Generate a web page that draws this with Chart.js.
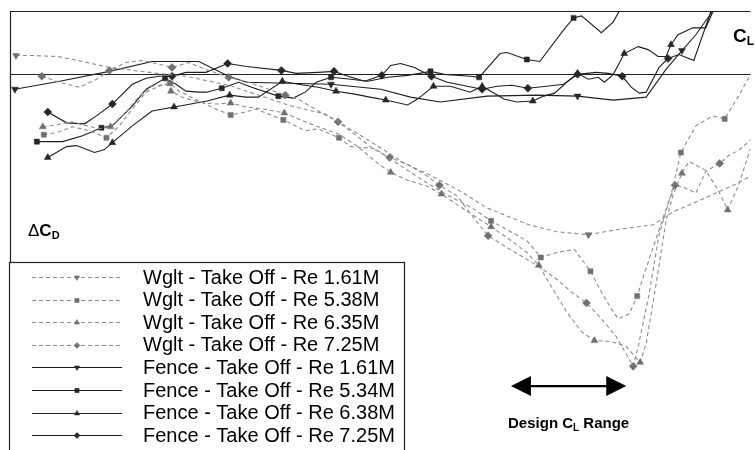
<!DOCTYPE html>
<html>
<head>
<meta charset="utf-8">
<script src="https://cdn.jsdelivr.net/npm/chart.js@4/dist/chart.umd.min.js"></script>
<style>
  html, body { margin: 0; padding: 0; background: #ffffff; }
  #wrap { width: 755px; height: 450px; position: relative; }
</style>
</head>
<body>
<div id="wrap"><canvas id="chart" width="755" height="450"></canvas></div>
<script>
// Lift coefficient CL (x) and drag increment dCD in drag counts (y), one array per run.
const wglt161 = [[0.012,19],[0.046,19],[0.096,18],[0.146,13],[0.200,7],[0.280,2],[0.354,-2],[0.440,-11],[0.506,-22],[0.566,-32],[0.634,-40],[0.700,-60],[0.754,-77],[0.794,-90],[0.846,-102],[0.906,-118],[0.960,-135],[1.044,-152],[1.100,-159],[1.164,-162],[1.220,-157],[1.294,-152],[1.334,-139],[1.380,-129],[1.420,-120],[1.460,-111],[1.500,-100]];
const wglt538 = [[0.068,-61],[0.100,-58],[0.126,-53],[0.160,-57],[0.194,-64],[0.220,-52],[0.246,-35],[0.274,-18],[0.300,-12],[0.322,-9],[0.340,-17],[0.380,-27],[0.414,-35],[0.444,-41],[0.476,-38],[0.494,-35],[0.550,-46],[0.594,-57],[0.620,-55],[0.662,-64],[0.686,-73],[0.734,-75],[0.764,-85],[0.800,-97],[0.840,-110],[0.880,-122],[0.930,-135],[0.968,-148],[1.000,-157],[1.040,-168],[1.068,-185],[1.100,-180],[1.136,-177],[1.168,-199],[1.190,-220],[1.210,-237],[1.224,-247],[1.246,-242],[1.262,-224],[1.276,-202],[1.294,-175],[1.314,-145],[1.330,-122],[1.350,-79],[1.380,-52],[1.414,-42],[1.438,-45],[1.466,-22],[1.490,0],[1.504,10]];
const wglt635 = [[0.066,-53],[0.094,-51],[0.124,-48],[0.154,-52],[0.180,-55],[0.202,-53],[0.234,-38],[0.260,-22],[0.286,-12],[0.314,-10],[0.324,-17],[0.346,-23],[0.380,-28],[0.414,-30],[0.444,-29],[0.476,-33],[0.510,-35],[0.552,-39],[0.580,-45],[0.620,-53],[0.660,-60],[0.700,-73],[0.740,-90],[0.766,-99],[0.800,-107],[0.840,-113],[0.868,-121],[0.910,-135],[0.940,-145],[0.968,-154],[1.000,-165],[1.040,-180],[1.064,-193],[1.090,-215],[1.120,-240],[1.150,-260],[1.176,-269],[1.210,-270],[1.240,-275],[1.268,-291],[1.280,-272],[1.300,-212],[1.320,-148],[1.334,-122],[1.352,-100],[1.366,-88],[1.400,-97],[1.426,-118],[1.444,-137],[1.466,-112],[1.490,-75],[1.504,-57]];
const wglt725 = [[0.064,-2],[0.100,-8],[0.140,-13],[0.174,-5],[0.200,4],[0.234,12],[0.266,14],[0.294,11],[0.326,7],[0.360,12],[0.394,5],[0.440,-3],[0.480,-8],[0.520,-15],[0.554,-21],[0.580,-25],[0.620,-37],[0.660,-48],[0.700,-63],[0.730,-75],[0.764,-84],[0.800,-91],[0.840,-103],[0.864,-112],[0.900,-123],[0.936,-147],[0.962,-163],[1.000,-175],[1.040,-187],[1.064,-194],[1.100,-207],[1.130,-220],[1.160,-231],[1.190,-247],[1.220,-265],[1.254,-295],[1.264,-275],[1.286,-222],[1.306,-162],[1.326,-128],[1.338,-112],[1.360,-115],[1.380,-120],[1.400,-98],[1.428,-90],[1.446,-82],[1.466,-77],[1.504,-60]];
const fence161 = [[0.010,-15],[0.100,-7],[0.200,3],[0.286,13],[0.380,13],[0.440,-2],[0.476,-8],[0.560,-9],[0.646,-10],[0.746,-15],[0.806,-23],[0.866,-28],[0.960,-22],[1.060,-21],[1.142,-22],[1.214,-26],[1.280,-23],[1.320,5],[1.352,24],[1.380,40],[1.414,64],[1.424,73]];
const fence534 = [[0.054,-68],[0.106,-68],[0.146,-62],[0.184,-54],[0.206,-52],[0.246,-32],[0.274,-15],[0.312,-4],[0.334,-10],[0.354,-17],[0.380,-18],[0.396,-18],[0.426,-14],[0.460,-8],[0.486,-13],[0.540,-22],[0.570,-24],[0.594,-18],[0.616,-8],[0.646,-3],[0.686,-5],[0.720,-7],[0.760,-3],[0.800,-1],[0.824,1],[0.846,3],[0.874,0],[0.926,-2],[0.944,-3],[0.986,21],[1.000,22],[1.040,15],[1.066,13],[1.114,45],[1.134,57],[1.150,59],[1.190,42],[1.214,53],[1.226,64],[1.240,75]];
const fence638 = [[0.076,-84],[0.114,-73],[0.134,-72],[0.170,-79],[0.190,-76],[0.206,-69],[0.246,-52],[0.286,-37],[0.330,-33],[0.364,-30],[0.396,-27],[0.442,-21],[0.474,-23],[0.500,-23],[0.548,-7],[0.580,-10],[0.620,-13],[0.656,-17],[0.694,-20],[0.724,-23],[0.756,-26],[0.800,-31],[0.820,-25],[0.852,-12],[0.886,-12],[0.926,-18],[0.950,-12],[0.994,-25],[1.020,-28],[1.052,-27],[1.074,-22],[1.096,-19],[1.120,-8],[1.142,1],[1.164,-5],[1.184,-3],[1.196,-8],[1.214,0],[1.236,21],[1.264,28],[1.284,25],[1.304,18],[1.320,18],[1.330,30],[1.344,40],[1.374,47],[1.400,47],[1.414,63],[1.420,71]];
const fence725 = [[0.076,-38],[0.114,-49],[0.150,-50],[0.174,-42],[0.206,-30],[0.246,-10],[0.274,-4],[0.300,-2],[0.326,-2],[0.354,2],[0.394,2],[0.438,11],[0.476,8],[0.546,4],[0.576,1],[0.620,2],[0.652,3],[0.680,-2],[0.714,-7],[0.748,-1],[0.766,9],[0.786,11],[0.814,7],[0.848,-2],[0.880,-8],[0.920,-12],[0.950,-15],[0.980,-12],[1.010,-11],[1.042,-14],[1.080,-12],[1.114,-10],[1.142,0],[1.180,2],[1.204,1],[1.232,-2],[1.250,-13],[1.266,-19],[1.280,-18],[1.306,7],[1.324,16],[1.346,20],[1.376,14],[1.410,63],[1.416,71]];

// Indices of the points that carry a symbol on each curve.
const markWglt161 = [0, 19];
const markWglt538 = [0, 4, 9, 13, 16, 19, 27, 30, 33, 38, 43, 46];
const markWglt635 = [0, 5, 10, 14, 17, 23, 26, 29, 32, 36, 39, 44, 48];
const markWglt725 = [0, 4, 8, 11, 14, 17, 20, 23, 26, 32, 35, 40, 44];
const markFence161 = [0, 8, 14, 18];
const markFence534 = [0, 3, 7, 12, 15, 19, 25, 28, 31, 34];
const markFence638 = [0, 5, 8, 11, 14, 17, 20, 23, 26, 29, 33, 38, 43];
const markFence725 = [0, 4, 8, 11, 13, 16, 19, 23, 26, 29, 32, 35, 40];

const seriesLabels = [
  'Wglt - Take Off - Re 1.61M',
  'Wglt - Take Off - Re 5.38M',
  'Wglt - Take Off - Re 6.35M',
  'Wglt - Take Off - Re 7.25M',
  'Fence - Take Off - Re 1.61M',
  'Fence - Take Off - Re 5.34M',
  'Fence - Take Off - Re 6.38M',
  'Fence - Take Off - Re 7.25M'
];

// Axis extent (CL, drag counts) and the design lift range annotation.
const clRange = [0, 1.49];
const dcdRange = [-375, 64];
const designCL = [1.008, 1.240];
const designArrowDCD = -315;

const WGLT_LINE = '#8c8c8c';
const WGLT_MARK = '#707070';
const FENCE_LINE = '#1e1e1e';
const FENCE_MARK = '#262626';
const SANS = '"Liberation Sans", Arial, Helvetica, sans-serif';

function toXY(arr) { return arr.map(p => ({ x: p[0], y: p[1] })); }

function makeSet(label, data, marks, style, dashed) {
  const wglt = !!dashed;
  return {
    label: label,
    data: toXY(data),
    showLine: true,
    borderColor: wglt ? WGLT_LINE : FENCE_LINE,
    borderWidth: 1.1,
    borderDash: wglt ? [4, 3] : [],
    backgroundColor: wglt ? WGLT_MARK : FENCE_MARK,
    pointBackgroundColor: wglt ? WGLT_MARK : FENCE_MARK,
    pointBorderColor: wglt ? WGLT_MARK : FENCE_MARK,
    pointBorderWidth: 0.5,
    pointStyle: style.shape,
    pointRotation: style.rot,
    pointRadius: ctx => marks.includes(ctx.dataIndex) ? style.r : 0,
    pointHoverRadius: 0,
    tension: 0,
    fill: false
  };
}

const DOWN = { shape: 'triangle', rot: 180, r: 4 };
const SQUARE = { shape: 'rect', rot: 0, r: 3.6 };
const UP = { shape: 'triangle', rot: 0, r: 4 };
const DIAMOND = { shape: 'rectRot', rot: 0, r: 4 };

const datasets = [
  makeSet(seriesLabels[0], wglt161, markWglt161, DOWN, true),
  makeSet(seriesLabels[1], wglt538, markWglt538, SQUARE, true),
  makeSet(seriesLabels[2], wglt635, markWglt635, UP, true),
  makeSet(seriesLabels[3], wglt725, markWglt725, DIAMOND, true),
  makeSet(seriesLabels[4], fence161, markFence161, DOWN, false),
  makeSet(seriesLabels[5], fence534, markFence534, SQUARE, false),
  makeSet(seriesLabels[6], fence638, markFence638, UP, false),
  makeSet(seriesLabels[7], fence725, markFence725, DIAMOND, false)
];

// Frame (top and left edges) plus the zero-drag reference line.
const framePlugin = {
  id: 'frame',
  beforeDatasetsDraw(chart) {
    const { ctx, chartArea: a, scales } = chart;
    const y0 = Math.round(scales.y.getPixelForValue(0)) + 0.5;
    ctx.save();
    ctx.strokeStyle = '#222222';
    ctx.lineWidth = 1.2;
    ctx.beginPath();
    ctx.moveTo(a.left, y0);
    ctx.lineTo(a.right, y0);
    ctx.stroke();
    ctx.beginPath();
    ctx.moveTo(a.right, a.top + 0.5);
    ctx.lineTo(a.left + 0.5, a.top + 0.5);
    ctx.lineTo(a.left + 0.5, a.bottom);
    ctx.stroke();
    ctx.restore();
  }
};

function subLabel(ctx, x, y, main, sub, mainSize, subSize, prefix) {
  let cx = x;
  if (prefix) {
    ctx.font = 'normal ' + mainSize + 'px ' + SANS;
    ctx.fillText(prefix, cx, y);
    cx += ctx.measureText(prefix).width;
  }
  ctx.font = 'bold ' + mainSize + 'px ' + SANS;
  ctx.fillText(main, cx, y);
  cx += ctx.measureText(main).width;
  ctx.font = 'bold ' + subSize + 'px ' + SANS;
  ctx.fillText(sub, cx, y + 3);
  return cx + ctx.measureText(sub).width;
}

// Axis captions, design range arrow and the boxed key.
const overlayPlugin = {
  id: 'overlay',
  afterDraw(chart) {
    const { ctx, scales } = chart;
    const xs = scales.x, ys = scales.y;
    ctx.save();
    ctx.fillStyle = '#000000';
    ctx.textBaseline = 'alphabetic';
    ctx.textAlign = 'left';

    subLabel(ctx, 733, 42, 'C', 'L', 19, 12);
    subLabel(ctx, 28, 236, 'C', 'D', 17, 11, '\u0394');

    // design CL range: double-headed arrow
    const xa = xs.getPixelForValue(designCL[0]);
    const xb = xs.getPixelForValue(designCL[1]);
    const ya = ys.getPixelForValue(designArrowDCD);
    const head = 20, half = 10;
    ctx.fillStyle = '#000000';
    ctx.strokeStyle = '#000000';
    ctx.lineWidth = 2.2;
    ctx.beginPath();
    ctx.moveTo(xa + head - 2, ya);
    ctx.lineTo(xb - head + 2, ya);
    ctx.stroke();
    ctx.beginPath();
    ctx.moveTo(xa, ya);
    ctx.lineTo(xa + head, ya - half);
    ctx.lineTo(xa + head, ya + half);
    ctx.closePath();
    ctx.fill();
    ctx.beginPath();
    ctx.moveTo(xb, ya);
    ctx.lineTo(xb - head, ya - half);
    ctx.lineTo(xb - head, ya + half);
    ctx.closePath();
    ctx.fill();

    // caption under the arrow, centred
    const mid = (xa + xb) / 2;
    const big = 'bold 15px ' + SANS, small = 'bold 10px ' + SANS;
    ctx.font = big;
    const w1 = ctx.measureText('Design C').width;
    ctx.font = small;
    const w2 = ctx.measureText('L').width;
    ctx.font = big;
    const w3 = ctx.measureText(' Range').width;
    let tx = mid - (w1 + w2 + w3) / 2;
    const ty = 428;
    ctx.fillText('Design C', tx, ty);
    tx += w1;
    ctx.font = small;
    ctx.fillText('L', tx, ty + 3);
    tx += w2;
    ctx.font = big;
    ctx.fillText(' Range', tx, ty);

    // key box
    const bx = 9.5, by = 262.5, bw = 395, bh = 200;
    ctx.fillStyle = '#ffffff';
    ctx.fillRect(bx, by, bw, bh);
    ctx.strokeStyle = '#222222';
    ctx.lineWidth = 1.2;
    ctx.strokeRect(bx, by, bw, bh);

    chart.data.datasets.forEach((ds, i) => {
      const cy = 277 + 22.6 * i;
      const ly = Math.round(cy) + 0.5;
      ctx.save();
      ctx.strokeStyle = ds.borderColor;
      ctx.lineWidth = ds.borderWidth;
      ctx.setLineDash(ds.borderDash);
      ctx.beginPath();
      ctx.moveTo(32, ly);
      ctx.lineTo(122, ly);
      ctx.stroke();
      ctx.setLineDash([]);
      ctx.fillStyle = ds.pointBackgroundColor;
      ctx.strokeStyle = ds.pointBorderColor;
      ctx.lineWidth = 0.5;
      Chart.helpers.drawPoint(ctx, {
        pointStyle: ds.pointStyle,
        rotation: ds.pointRotation,
        radius: 3,
        borderWidth: 0.5
      }, 77, ly);
      ctx.restore();
      ctx.fillStyle = '#000000';
      ctx.font = 'normal 20px ' + SANS;
      ctx.textBaseline = 'middle';
      ctx.fillText(ds.label, 143, cy + 1);
    });
    ctx.restore();
  }
};

new Chart(document.getElementById('chart'), {
  type: 'scatter',
  data: { datasets: datasets },
  options: {
    responsive: false,
    animation: false,
    events: [],
    layout: { padding: { left: 10, top: 11, right: 0, bottom: 0 } },
    scales: {
      x: { type: 'linear', min: clRange[0], max: clRange[1], display: false },
      y: { type: 'linear', min: dcdRange[0], max: dcdRange[1], display: false }
    },
    plugins: {
      legend: { display: false },
      tooltip: { enabled: false },
      title: { display: false }
    }
  },
  plugins: [framePlugin, overlayPlugin]
});
</script>
</body>
</html>
